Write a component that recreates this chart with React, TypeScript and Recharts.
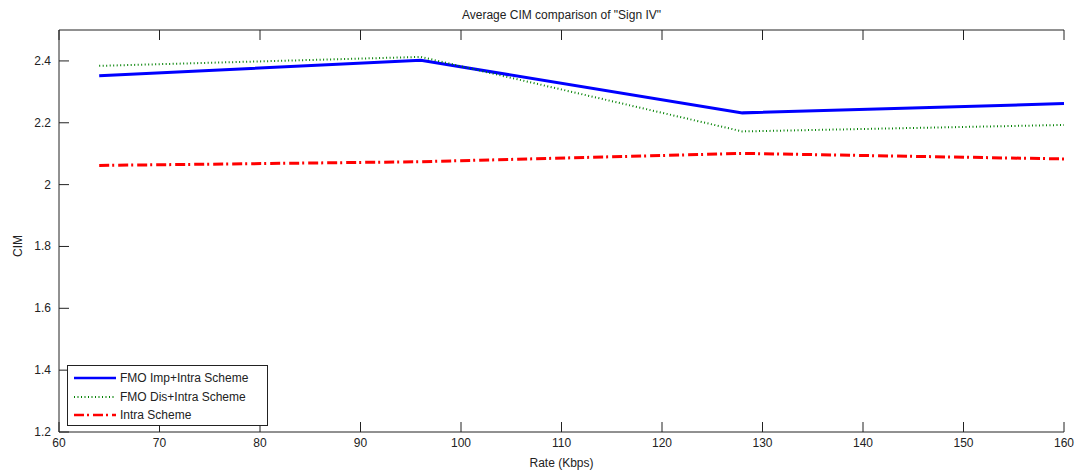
import React from "react";
import { Line, LineChart, XAxis, YAxis } from "recharts";

const rates = [64, 96, 128, 160];
const fmoImp = [2.352, 2.402, 2.232, 2.262];
const fmoDis = [2.384, 2.413, 2.172, 2.193];
const intra = [2.062, 2.074, 2.101, 2.083];

const xTicks = [60, 70, 80, 90, 100, 110, 120, 130, 140, 150, 160];
const yTicks = [1.2, 1.4, 1.6, 1.8, 2, 2.2, 2.4];

const INK = "#222222";
const FONT = "Arial, 'Liberation Sans', Helvetica, sans-serif";

const data = rates.map((rate, i) => ({
  rate,
  imp: fmoImp[i],
  dis: fmoDis[i],
  intra: intra[i],
}));

const series = [
  { key: "imp", name: "FMO Imp+Intra Scheme", color: "#0000ff", width: 3, dash: undefined as string | undefined },
  { key: "dis", name: "FMO Dis+Intra Scheme", color: "#008000", width: 2, dash: "1 2.5" },
  { key: "intra", name: "Intra Scheme", color: "#ff0000", width: 3, dash: "10 3 2 4" },
];

const TICK_LEN = 10;

const BottomTick = (props: any) => {
  const { x, y, payload } = props;
  return (
    <g>
      <line x1={x} x2={x} y1={y} y2={y - TICK_LEN} stroke={INK} />
      <text x={x} y={y + 15} textAnchor="middle" fill={INK} fontSize={12} fontFamily={FONT}>
        {payload.value}
      </text>
    </g>
  );
};

const TopTick = (props: any) => {
  const { x, y } = props;
  return <line x1={x} x2={x} y1={y} y2={y + TICK_LEN} stroke={INK} />;
};

const LeftTick = (props: any) => {
  const { x, y, payload } = props;
  return (
    <g>
      <line x1={x} x2={x + TICK_LEN} y1={y} y2={y} stroke={INK} />
      <text x={x - 8} y={y + 4} textAnchor="end" fill={INK} fontSize={12} fontFamily={FONT}>
        {payload.value === 2 ? "2" : payload.value.toFixed(1)}
      </text>
    </g>
  );
};

const RightTick = (props: any) => {
  const { x, y } = props;
  return <line x1={x} x2={x - TICK_LEN} y1={y} y2={y} stroke={INK} />;
};

// MATLAB puts the y label a little below the middle of the axis
const YLabel = () => (
  <text
    x={22}
    y={246}
    transform="rotate(-90 22 246)"
    textAnchor="middle"
    fill={INK}
    fontSize={12}
    fontFamily={FONT}
  >
    CIM
  </text>
);

const LegendBox = () => (
  <div
    style={{
      position: "absolute",
      left: 67,
      top: 365,
      boxSizing: "border-box",
      width: 201,
      height: 61,
      border: `1px solid ${INK}`,
      background: "#fff",
      paddingTop: 3,
      fontFamily: FONT,
      fontSize: 12,
      color: INK,
    }}
  >
    {series.map((s) => (
      <div key={s.key} style={{ display: "flex", alignItems: "center", height: 18.5 }}>
        <svg width={50} height={8} style={{ marginLeft: 6 }}>
          <line
            x1={0}
            x2={42}
            y1={4}
            y2={4}
            stroke={s.color}
            strokeWidth={s.width === 3 ? 2.5 : 2}
            strokeDasharray={s.dash}
          />
        </svg>
        <span style={{ marginLeft: -4 }}>{s.name}</span>
      </div>
    ))}
  </div>
);

export default function App() {
  return (
    <div style={{ position: "absolute", left: 0, top: 0, width: 1081, height: 473, background: "#fff" }}>
      <div
        style={{
          position: "absolute",
          left: 59,
          width: 1005,
          top: 7,
          textAlign: "center",
          fontFamily: FONT,
          fontSize: 12,
          color: INK,
          lineHeight: "16px",
        }}
      >
        Average CIM comparison of "Sign IV"
      </div>
      <LineChart width={1081} height={473} data={data} margin={{ top: 29, right: 17, bottom: 0, left: 0 }}>
        <XAxis
          xAxisId="bottom"
          dataKey="rate"
          type="number"
          domain={[60, 160]}
          ticks={xTicks}
          interval={0}
          height={41}
          tickSize={0}
          tickMargin={0}
          tickLine={false}
          axisLine={{ stroke: INK }}
          tick={<BottomTick />}
          label={{ value: "Rate (Kbps)", position: "insideBottom", offset: 6, fill: INK, fontSize: 12, fontFamily: FONT }}
        />
        <XAxis
          xAxisId="top"
          orientation="top"
          dataKey="rate"
          type="number"
          domain={[60, 160]}
          ticks={xTicks}
          interval={0}
          height={1}
          tickSize={0}
          tickMargin={0}
          tickLine={false}
          axisLine={{ stroke: INK }}
          tick={<TopTick />}
        />
        <YAxis
          yAxisId="left"
          type="number"
          domain={[1.2, 2.5]}
          ticks={yTicks}
          interval={0}
          width={59}
          tickSize={0}
          tickMargin={0}
          tickLine={false}
          axisLine={{ stroke: INK }}
          tick={<LeftTick />}
          label={{ value: "CIM", content: <YLabel /> }}
        />
        <YAxis
          yAxisId="right"
          orientation="right"
          type="number"
          domain={[1.2, 2.5]}
          ticks={yTicks}
          interval={0}
          width={0}
          tickSize={0}
          tickMargin={0}
          tickLine={false}
          axisLine={{ stroke: INK }}
          tick={<RightTick />}
        />
        {series.map((s) => (
          <Line
            key={s.key}
            xAxisId="bottom"
            yAxisId="left"
            type="linear"
            dataKey={s.key}
            name={s.name}
            stroke={s.color}
            strokeWidth={s.width}
            strokeDasharray={s.dash}
            dot={false}
            activeDot={false}
            isAnimationActive={false}
          />
        ))}
      </LineChart>
      <LegendBox />
    </div>
  );
}
